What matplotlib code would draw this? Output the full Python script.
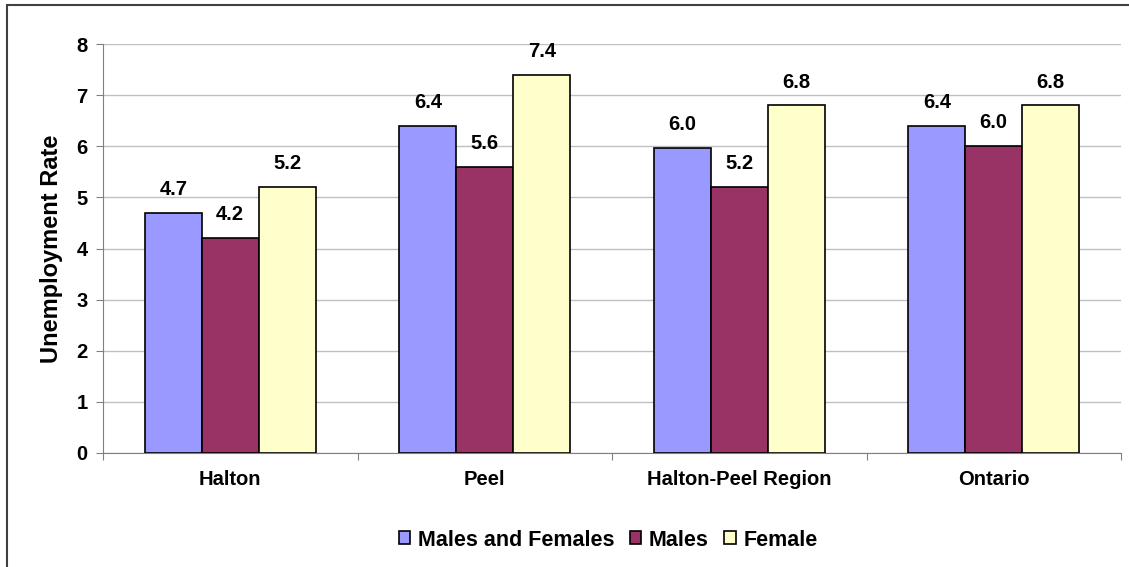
import numpy as np
import matplotlib.pyplot as plt
from matplotlib.patches import Rectangle

plt.rcParams['font.family'] = ['Liberation Sans', 'DejaVu Sans']
plt.rcParams['font.weight'] = 'bold'

# data
regions = ["Halton", "Peel", "Halton-Peel Region", "Ontario"]
both = [4.7, 6.4, 5.96, 6.4]
males = [4.2, 5.6, 5.2, 6.0]
female = [5.2, 7.4, 6.8, 6.8]
series_names = ["Males and Females", "Males", "Female"]
colors = ["#9999ff", "#993366", "#ffffcc"]

fig = plt.figure(figsize=(11.29, 5.67), dpi=100)
ax = fig.add_axes([103 / 1129, 1 - 453 / 567, 1018 / 1129, 409 / 567])

# outer frame (left/top visible)
fig.patches.append(Rectangle((7 / 1129, -0.1), 1.2, 1 - 5 / 567 + 0.1,
                             transform=fig.transFigure, fill=False,
                             edgecolor="#404040", linewidth=1.5, zorder=0))

x = np.arange(len(regions)) + 0.5
w = 57 / 255
for i, (vals, name, c) in enumerate(zip([both, males, female], series_names, colors)):
    pos = x + (i - 1) * w
    ax.bar(pos, vals, width=w, color=c, edgecolor="black", linewidth=1.2,
           label=name, zorder=3)
    for p, v in zip(pos, vals):
        ax.text(p, v + 0.27, f"{v:.1f}", ha="center", va="bottom",
                fontsize=14.5, fontweight="bold")

ax.set_xlim(0, 4)
ax.set_ylim(0, 8)
ax.set_yticks(range(0, 9))
ax.set_xticks(np.arange(0, 5))
ax.set_xticklabels([])
ax.set_xticks(x, minor=True)
ax.set_xticklabels(regions, minor=True, fontsize=14.5, fontweight="bold")
ax.tick_params(axis="x", which="minor", length=0, pad=12)
ax.tick_params(axis="x", which="major", length=5, color="#808080", direction="out")
ax.tick_params(axis="y", labelsize=14.5, length=5, color="#808080", pad=6)
for t in ax.get_yticklabels():
    t.set_fontweight("bold")

ax.grid(axis="y", color="#c0c0c0", linewidth=1, zorder=0)
ax.set_axisbelow(True)
for s in ["top", "right"]:
    ax.spines[s].set_visible(False)
ax.spines["left"].set_color("#808080")
ax.spines["bottom"].set_color("#808080")

ax.set_ylabel("Unemployment Rate", fontsize=17, fontweight="bold", labelpad=10)

fig.legend(loc="center", bbox_to_anchor=(608 / 1129, 1 - 540 / 567), ncol=3,
           frameon=False, fontsize=15.5, handlelength=0.55, handleheight=0.55,
           handletextpad=0.35, columnspacing=0.7)

fig.savefig("out.png", dpi=100)
